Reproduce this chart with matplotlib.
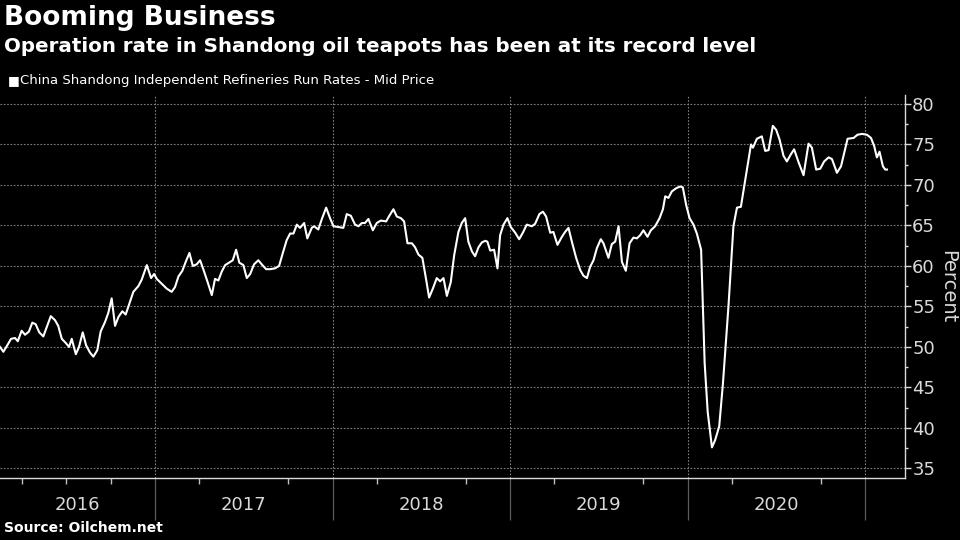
import numpy as np
import matplotlib
matplotlib.use("Agg")
from matplotlib import pyplot as plt
from matplotlib.ticker import MultipleLocator, FixedLocator

# weekly run rates, dates as decimal years
t_2016 = [2016.127, 2016.146, 2016.168, 2016.189, 2016.212, 2016.227, 2016.249, 2016.268,
          2016.290, 2016.309, 2016.328, 2016.348, 2016.371, 2016.413, 2016.437, 2016.455,
          2016.475, 2016.497, 2016.516, 2016.531, 2016.554, 2016.572, 2016.593, 2016.612,
          2016.634, 2016.653, 2016.675, 2016.694, 2016.719, 2016.737, 2016.756, 2016.775,
          2016.794, 2016.816, 2016.835, 2016.878, 2016.906, 2016.925, 2016.954, 2016.978,
          2016.995]
v_2016 = [50.0, 49.4, 50.2, 51.0, 51.1, 50.7, 52.0, 51.5,
          51.9, 53.0, 52.8, 51.8, 51.3, 53.8, 53.3, 52.6,
          51.0, 50.5, 50.0, 51.0, 49.1, 50.0, 51.8, 50.2,
          49.3, 48.8, 49.6, 51.9, 53.1, 54.2, 56.0, 52.6,
          53.7, 54.4, 54.0, 56.8, 57.5, 58.3, 60.1, 58.5,
          59.0]

t_2017 = [2017.010, 2017.038, 2017.066, 2017.094, 2017.113, 2017.132, 2017.154, 2017.173,
          2017.194, 2017.213, 2017.235, 2017.254, 2017.272, 2017.295, 2017.320, 2017.338,
          2017.357, 2017.376, 2017.395, 2017.417, 2017.438, 2017.457, 2017.475, 2017.498,
          2017.517, 2017.536, 2017.558, 2017.582, 2017.601, 2017.626, 2017.648, 2017.676,
          2017.699, 2017.720, 2017.742, 2017.761, 2017.780, 2017.799, 2017.817, 2017.840,
          2017.858, 2017.883, 2017.896, 2017.920, 2017.940, 2017.964, 2017.986]
v_2017 = [58.4, 57.8, 57.2, 56.8, 57.4, 58.7, 59.4, 60.5,
          61.6, 60.0, 60.2, 60.7, 59.6, 58.1, 56.4, 58.4,
          58.2, 59.3, 60.1, 60.4, 60.7, 62.0, 60.4, 60.1,
          58.5, 59.0, 60.2, 60.7, 60.2, 59.6, 59.6, 59.7,
          60.0, 61.6, 63.2, 64.0, 64.0, 65.1, 64.7, 65.3,
          63.4, 64.7, 64.9, 64.5, 65.8, 67.2, 65.9]

t_2018 = [2018.005, 2018.033, 2018.061, 2018.080, 2018.103, 2018.127, 2018.146, 2018.165,
          2018.183, 2018.202, 2018.227, 2018.249, 2018.272, 2018.302, 2018.320, 2018.343,
          2018.362, 2018.385, 2018.403, 2018.422, 2018.447, 2018.465, 2018.484, 2018.506,
          2018.525, 2018.544, 2018.565, 2018.587, 2018.606, 2018.625, 2018.644, 2018.666,
          2018.685, 2018.709, 2018.728, 2018.747, 2018.765, 2018.785, 2018.803, 2018.822,
          2018.841, 2018.860, 2018.872, 2018.888, 2018.910, 2018.929, 2018.944, 2018.963,
          2018.985]
v_2018 = [64.9, 64.8, 64.7, 66.4, 66.2, 65.1, 64.9, 65.3,
          65.3, 65.8, 64.4, 65.3, 65.6, 65.5, 66.2, 67.0,
          66.1, 65.9, 65.5, 62.8, 62.8, 62.3, 61.4, 61.0,
          58.6, 56.1, 57.2, 58.5, 58.1, 58.5, 56.3, 58.0,
          61.3, 64.2, 65.3, 65.9, 63.0, 61.8, 61.2, 62.3,
          62.9, 63.1, 63.0, 61.9, 62.0, 59.7, 63.8, 65.1,
          65.9]

t_2019 = [2019.004, 2019.029, 2019.051, 2019.072, 2019.094, 2019.123, 2019.141, 2019.165,
          2019.185, 2019.203, 2019.226, 2019.244, 2019.267, 2019.292, 2019.310, 2019.329,
          2019.348, 2019.372, 2019.395, 2019.413, 2019.433, 2019.451, 2019.470, 2019.489,
          2019.511, 2019.526, 2019.554, 2019.573, 2019.592, 2019.611, 2019.630, 2019.652,
          2019.673, 2019.695, 2019.714, 2019.733, 2019.751, 2019.774, 2019.793, 2019.817,
          2019.842, 2019.861, 2019.874, 2019.892, 2019.911, 2019.936, 2019.958, 2019.973,
          2019.992]
v_2019 = [64.8, 64.1, 63.3, 64.1, 65.1, 64.9, 65.2, 66.4,
          66.7, 66.1, 64.1, 64.2, 62.6, 63.6, 64.2, 64.7,
          63.0, 61.0, 59.5, 58.8, 58.5, 59.9, 60.7, 62.2,
          63.3, 62.8, 61.0, 62.7, 63.0, 64.9, 60.5, 59.4,
          62.8, 63.5, 63.4, 63.8, 64.4, 63.6, 64.4, 64.9,
          65.9, 67.0, 68.6, 68.4, 69.2, 69.6, 69.8, 69.7,
          67.5]

t_2020 = [2020.011, 2020.033, 2020.052, 2020.076, 2020.096, 2020.113, 2020.137, 2020.155,
          2020.178, 2020.199, 2020.230, 2020.258, 2020.278, 2020.300, 2020.328, 2020.357,
          2020.368, 2020.390, 2020.418, 2020.437, 2020.456, 2020.480, 2020.499, 2020.518,
          2020.540, 2020.559, 2020.582, 2020.600, 2020.625, 2020.653, 2020.681, 2020.700,
          2020.724, 2020.747, 2020.769, 2020.794, 2020.813, 2020.841, 2020.864, 2020.901,
          2020.935, 2020.957, 2020.982, 2021.010, 2021.033, 2021.051, 2021.066, 2021.081,
          2021.100, 2021.113, 2021.123]
v_2020 = [65.9, 65.1, 64.0, 62.0, 48.0, 42.0, 37.6, 38.5,
          40.2, 45.5, 55.0, 64.9, 67.2, 67.3, 71.1, 75.0,
          74.6, 75.7, 76.0, 74.2, 74.3, 77.3, 76.8, 75.6,
          73.6, 72.9, 73.8, 74.4, 72.8, 71.2, 75.1, 74.6,
          71.9, 72.0, 72.9, 73.4, 73.2, 71.5, 72.3, 75.7,
          75.8, 76.2, 76.3, 76.2, 75.8, 74.8, 73.4, 74.1,
          72.3, 71.9, 71.9]

years = [2016, 2017, 2018, 2019, 2020]
x_start, x_end = 2016.127, 2021.226

t = t_2016 + t_2017 + t_2018 + t_2019 + t_2020
v = v_2016 + v_2017 + v_2018 + v_2019 + v_2020

narrow = ['Liberation Sans Narrow', 'DejaVu Sans']
grid_col = '#7f7f7f'

fig = plt.figure(figsize=(9.6, 5.4), dpi=100, facecolor='black')
ax = fig.add_axes([0.0, 0.115, 0.943, 0.709], facecolor='black')

ax.plot(t, v, color='white', lw=1.5, solid_joinstyle='round')

ax.set_xlim(x_start, x_end)
ax.set_ylim(33.83, 81.1)

# y axis on the right
ax.yaxis.tick_right()
ax.yaxis.set_label_position('right')
ax.yaxis.set_major_locator(MultipleLocator(5))
ax.yaxis.set_minor_locator(MultipleLocator(2.5))
ax.tick_params(axis='y', which='major', colors='#d9d9d9', length=4, width=1,
               labelsize=13, pad=1)
ax.tick_params(axis='y', which='minor', colors='#d9d9d9', length=2, width=1)
for lab in ax.get_yticklabels():
    lab.set_family(narrow)
ax.set_ylabel('Percent', color='#d9d9d9', fontsize=14, rotation=270,
              labelpad=16, family=narrow)

# x axis: year labels centred in each span, quarterly minor ticks
centres = [(max(y, x_start) + min(y + 1, x_end)) / 2 for y in years]
ax.xaxis.set_major_locator(FixedLocator(centres))
ax.set_xticklabels([str(y) for y in years], family=narrow)
quarters = [y + q / 4 for y in range(2016, 2022) for q in range(4)
            if x_start < y + q / 4 < x_end and q != 0]
ax.xaxis.set_minor_locator(FixedLocator(quarters))
ax.tick_params(axis='x', which='major', length=0, colors='#d9d9d9',
               labelsize=13, pad=13)
ax.tick_params(axis='x', which='minor', length=4, width=1, colors='#bfbfbf')

# grid
for yv in range(35, 81, 5):
    ax.axhline(yv, color=grid_col, lw=0.8, ls=(0, (1.5, 1.5)), zorder=0)
for y in years[1:] + [2021]:
    ax.axvline(y, color=grid_col, lw=0.8, ls=(0, (1.5, 1.5)), zorder=0)
ax.vlines(years[1:] + [2021], -0.11, 0, transform=ax.get_xaxis_transform(),
          color='#5a5a5a', lw=0.9, clip_on=False)

for side in ['left', 'top']:
    ax.spines[side].set_visible(False)
for side in ['right', 'bottom']:
    ax.spines[side].set_color('#d9d9d9')
    ax.spines[side].set_linewidth(1)

# titles
fig.text(0.004, 0.966, 'Booming Business', color='white', fontsize=19,
         fontweight='bold', va='center', ha='left')
fig.text(0.004, 0.913, 'Operation rate in Shandong oil teapots has been at its record level',
         color='white', fontsize=14.3, fontweight='bold', va='center', ha='left')
fig.text(0.008, 0.851, '\u25a0', color='white', fontsize=9, va='center', ha='left')
fig.text(0.021, 0.851, 'China Shandong Independent Refineries Run Rates - Mid Price',
         color='white', fontsize=9.5, va='center', ha='left', family=narrow)
fig.text(0.004, 0.022, 'Source: Oilchem.net', color='white', fontsize=10,
         fontweight='bold', va='center', ha='left')

fig.savefig('out.png', dpi=100, facecolor='black')
